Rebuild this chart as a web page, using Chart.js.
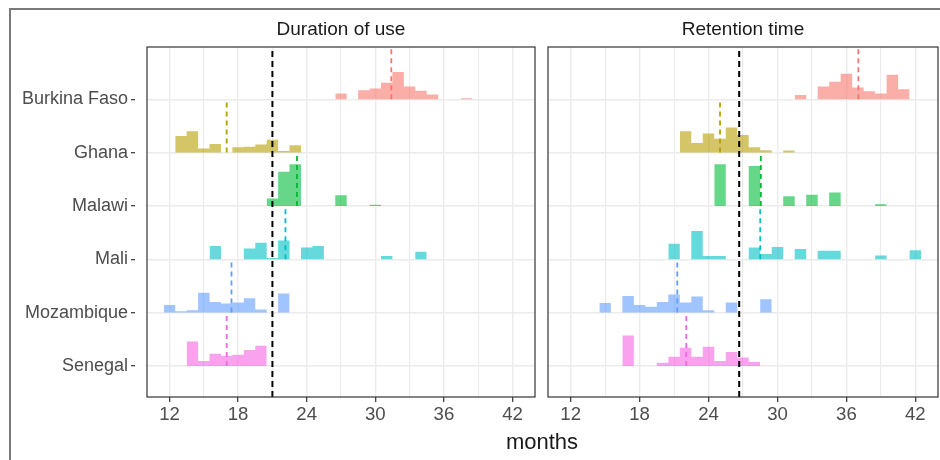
<!DOCTYPE html>
<html>
<head>
<meta charset="utf-8">
<script src="https://cdn.jsdelivr.net/npm/chart.js@4"></script>
<style>
  html, body { margin: 0; padding: 0; background: #fff; }
  body { width: 940px; height: 460px; position: relative; overflow: hidden;
         font-family: "Liberation Sans", Arial, sans-serif; }
  #frame { position: absolute; left: 9px; top: 8px; width: 960px; height: 480px;
           border: 2px solid #7a7a7a; box-sizing: border-box; }
  canvas { position: absolute; top: 0; }
  .lbl { position: absolute; white-space: nowrap; text-align: center; color: #1a1a1a; }
</style>
</head>
<body>
<div id="frame"></div>
<canvas id="c1" width="545" height="460" style="left:0px"></canvas>
<canvas id="c2" width="400" height="460" style="left:540px"></canvas>
<div class="lbl" style="left:241px; top:19px; width:200px; font-size:19px; line-height:19px;">Duration of use</div>
<div class="lbl" style="left:643px; top:19px; width:200px; font-size:19px; line-height:19px;">Retention time</div>
<div class="lbl" style="left:442px; top:431px; width:200px; font-size:22px; line-height:22px;">months</div>

<script>
// Countries, top row first
const countries = ['Burkina Faso', 'Ghana', 'Malawi', 'Mali', 'Mozambique', 'Senegal'];
const hues = ['#F8766D', '#B79F00', '#00BA38', '#00BFC4', '#619CFF', '#F564E3'];

// x-axis breaks (months); labels only on every second break
const xTickValues = [12, 15, 18, 21, 24, 27, 30, 33, 36, 39, 42];
const xTickLabels = ['12', '', '18', '', '24', '', '30', '', '36', '', '42'];

// Duration of use: first bin (month) per country and bin heights (1-month bins)
const durStart = [27, 13, 21, 16, 12, 14];
const durBurkina = [0.11, 0, 0.17, 0.20, 0.31, 0.51, 0.24, 0.16, 0.09, 0, 0, 0.02];
const durGhana = [0.31, 0.40, 0.075, 0.16, 0, 0.10, 0.11, 0.15, 0.24, 0.03, 0.14];
const durMalawi = [0.14, 0.64, 0.78, 0, 0, 0, 0.20, 0, 0, 0.02];
const durMali = [0.25, 0, 0, 0.20, 0.31, 0.025, 0.35, 0, 0.22, 0.25, 0, 0, 0, 0, 0, 0.06, 0, 0, 0.14];
const durMozambique = [0.14, 0.025, 0.045, 0.37, 0.20, 0.17, 0.19, 0.27, 0.06, 0, 0.36];
const durSenegal = [0.46, 0.09, 0.23, 0.19, 0.21, 0.30, 0.38];
const durMeans = [31.4, 17.0, 23.15, 22.14, 17.42, 17.0];
const durOverallMean = 21.0;

// Retention time
const retStart = [32, 22, 25, 21, 15, 17];
const retBurkina = [0.08, 0, 0.24, 0.33, 0.48, 0.22, 0.15, 0.11, 0.46, 0.19];
const retGhana = [0.40, 0.18, 0.36, 0.26, 0.47, 0.33, 0.10, 0.045, 0, 0.04];
const retMalawi = [0.78, 0, 0, 0.75, 0, 0, 0.18, 0, 0.21, 0, 0.25, 0, 0, 0, 0.03];
const retMali = [0.29, 0, 0.53, 0.06, 0.06, 0, 0, 0.22, 0.10, 0.23, 0, 0.19, 0, 0.16, 0.16, 0, 0, 0, 0.07, 0, 0, 0.17];
const retMozambique = [0.18, 0, 0.31, 0.14, 0.11, 0.20, 0.34, 0.19, 0.30, 0.045, 0, 0.19, 0, 0, 0.25];
const retSenegal = [0.57, 0, 0, 0.06, 0.17, 0.34, 0.17, 0.36, 0.09, 0.26, 0.16, 0.075];
const retMeans = [37.04, 25.0, 28.55, 28.5, 21.28, 22.06];
const retOverallMean = 26.67;

// Height of each country's mean marker, in row units
const meanMarkHeight = 0.97;

const FONT = '"Liberation Sans", Arial, sans-serif';
const X_MIN = 10.03, X_MAX = 43.97;
const Y_MIN = -0.583, Y_MAX = 5.98;

function withAlpha(hex, a) {
  const n = parseInt(hex.slice(1), 16);
  return `rgba(${(n >> 16) & 255},${(n >> 8) & 255},${n & 255},${a})`;
}

// Step outline of a 1-month-bin histogram sitting on a row baseline
function stepPoints(start, heights, base) {
  const pts = [{ x: start - 0.5, y: base }];
  heights.forEach((h, i) => {
    const c = start + i;
    pts.push({ x: c - 0.5, y: base + h }, { x: c + 0.5, y: base + h });
  });
  pts.push({ x: start + heights.length - 0.5, y: base });
  return pts;
}

function buildDatasets(starts, series, means, overall) {
  const sets = [];
  // overall mean across all countries, on top
  sets.push({
    data: [{ x: overall, y: Y_MIN }, { x: overall, y: Y_MAX }],
    borderColor: '#000', borderWidth: 2, borderDash: [6, 4],
    pointRadius: 0, fill: false, order: 0
  });
  series.forEach((heights, i) => {
    const base = countries.length - 1 - i;
    sets.push({
      data: [{ x: means[i], y: base }, { x: means[i], y: base + meanMarkHeight }],
      borderColor: hues[i], borderWidth: 1.8, borderDash: [5, 4],
      pointRadius: 0, fill: false, order: 1
    });
    sets.push({
      data: stepPoints(starts[i], heights, base),
      borderColor: 'rgba(0,0,0,0)', borderWidth: 0,
      backgroundColor: withAlpha(hues[i], 0.6),
      fill: { value: base }, pointRadius: 0, tension: 0,
      order: 10 - i
    });
  });
  return sets;
}

const panelBorder = {
  id: 'panelBorder',
  afterDraw(chart) {
    const { ctx, chartArea: a } = chart;
    ctx.save();
    ctx.strokeStyle = '#333333';
    ctx.lineWidth = 1.2;
    ctx.strokeRect(a.left, a.top, a.right - a.left, a.bottom - a.top);
    ctx.restore();
  }
};

function makeChart(id, datasets, showY, yAxisWidth, padRight) {
  return new Chart(document.getElementById(id), {
    type: 'line',
    data: { datasets },
    plugins: [panelBorder],
    options: {
      responsive: false,
      animation: false,
      events: [],
      layout: { padding: { top: 47, right: padRight, left: 0, bottom: 0 } },
      plugins: { legend: { display: false }, tooltip: { enabled: false } },
      scales: {
        x: {
          type: 'linear', min: X_MIN, max: X_MAX,
          afterBuildTicks: s => { s.ticks = xTickValues.map(v => ({ value: v })); },
          afterFit: s => { s.height = 63; },
          border: { display: false },
          grid: {
            color: '#EBEBEB',
            lineWidth: c => (c.tick && xTickLabels[xTickValues.indexOf(c.tick.value)] !== '' ? 1.4 : 1.1),
            tickLength: 5,
            tickWidth: 1.2,
            tickColor: c => (c.tick && xTickLabels[xTickValues.indexOf(c.tick.value)] !== '' ? '#333333' : 'rgba(0,0,0,0)')
          },
          ticks: {
            autoSkip: false, maxRotation: 0, padding: 2,
            color: '#4D4D4D', font: { family: FONT, size: 18.6 },
            callback: v => xTickLabels[xTickValues.indexOf(v)] ?? ''
          }
        },
        y: {
          type: 'linear', min: Y_MIN, max: Y_MAX,
          afterBuildTicks: s => { s.ticks = countries.map((_, i) => ({ value: i })); },
          afterFit: s => { s.width = yAxisWidth; },
          border: { display: false },
          grid: {
            color: '#EBEBEB', lineWidth: 1.4,
            drawTicks: showY, tickLength: 16, tickWidth: 1.2,
            tickColor: '#333333', tickBorderDash: [4, 40]
          },
          ticks: {
            display: showY, padding: 3,
            color: '#4D4D4D', font: { family: FONT, size: 18 },
            callback: v => countries[countries.length - 1 - v]
          }
        }
      }
    }
  });
}

makeChart('c1',
  buildDatasets(durStart, [durBurkina, durGhana, durMalawi, durMali, durMozambique, durSenegal], durMeans, durOverallMean),
  true, 147, 10);
makeChart('c2',
  buildDatasets(retStart, [retBurkina, retGhana, retMalawi, retMali, retMozambique, retSenegal], retMeans, retOverallMean),
  false, 8, 2);
</script>
</body>
</html>
